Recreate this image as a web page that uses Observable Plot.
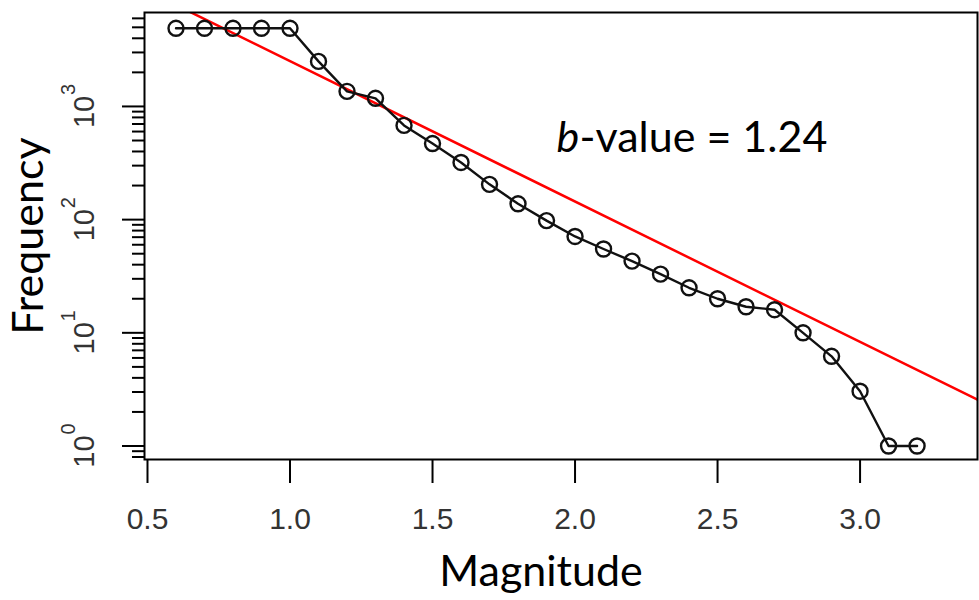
<!DOCTYPE html>
<html>
<head>
<meta charset="utf-8">
<script src="https://cdn.jsdelivr.net/npm/d3@7"></script>
<script src="https://cdn.jsdelivr.net/npm/@observablehq/plot@0.6"></script>
<style>
  html, body { margin: 0; padding: 0; background: #fff; }
  #chart svg { display: block; }
</style>
</head>
<body>
<div id="chart"></div>
<script>
// ---- data ----
const magnitudes = [0.6, 0.7, 0.8, 0.9, 1.0, 1.1, 1.2, 1.3, 1.4, 1.5, 1.6, 1.7, 1.8, 1.9,
                    2.0, 2.1, 2.2, 2.3, 2.4, 2.5, 2.6, 2.7, 2.8, 2.9, 3.0, 3.1, 3.2];
const frequencies = [4900, 4900, 4900, 4900, 4900, 2500, 1360, 1180, 680, 470, 320, 205, 138, 98,
                     71, 55, 43, 33, 25, 20, 17, 16, 10, 6.2, 3.05, 1, 1];
const fitA = [4.64];       // intercept of log10(N) = a - b*M
const fitB = [1.24];       // b-value
const xTicks = [0.5, 1.0, 1.5, 2.0, 2.5, 3.0];
const yMajorTicks = [1, 10, 100, 1000];
const xDomain = [0.4895, 3.412];
const yDomain = [0.76, 6760];
const annotationText = ["b", "-value = 1.24"];
const axisTitles = ["Magnitude", "Frequency"];

// ---- derived tables ----
const data = magnitudes.map((m, i) => ({m, n: frequencies[i]}));
const fit = xDomain.map(m => ({m, n: Math.pow(10, fitA[0] - fitB[0] * m)}));
const yMinorTicks = [];
for (const d of [0.1, 1, 10, 100, 1000]) {
  for (let k = 2; k <= 9; k++) {
    const v = k * d;
    if (v >= yDomain[0] && v <= yDomain[1]) yMinorTicks.push(v);
  }
}

const titleFont = "Lato";

const chart = Plot.plot({
  width: 979,
  height: 600,
  marginLeft: 144,
  marginRight: 2,
  marginTop: 12,
  marginBottom: 141,
  style: {background: "white", fontFamily: "'Liberation Sans', Arial, sans-serif"},
  x: {domain: xDomain},
  y: {type: "log", domain: yDomain},
  marks: [
    Plot.line(fit, {x: "m", y: "n", stroke: "#ff0000", strokeWidth: 2.5, clip: true}),
    Plot.line(data, {x: "m", y: "n", stroke: "#111", strokeWidth: 2.4}),
    Plot.dot(data, {x: "m", y: "n", r: 7.5, stroke: "#111", strokeWidth: 2.4, fill: "none"}),
    Plot.frame({stroke: "#000", strokeWidth: 2}),
    Plot.axisX({ticks: xTicks, tickSize: 24, tickPadding: 24, fontSize: 30,
                tickFormat: d3.format(".1f"), label: null, stroke: "#000", strokeWidth: 2, fill: "#333"}),
    Plot.axisY({ticks: yMajorTicks, tickSize: 22, tickFormat: () => "", label: null, stroke: "#000", strokeWidth: 2}),
    Plot.axisY({ticks: yMinorTicks, tickSize: 12, tickFormat: () => "", label: null, stroke: "#000", strokeWidth: 2}),
    // y tick labels: 10 with superscript exponent
    Plot.text(yMajorTicks, {y: d => d, text: () => "10", frameAnchor: "left", dx: -60, dy: 5.5,
                            rotate: -90, fontSize: 29, fill: "#333", textAnchor: "middle", lineAnchor: "middle"}),
    Plot.text(yMajorTicks, {y: d => d, text: d => String(Math.round(Math.log10(d))), frameAnchor: "left",
                            dx: -76, dy: -17, rotate: -90, fontSize: 20, fill: "#333",
                            textAnchor: "middle", lineAnchor: "middle"}),
    // annotation
    Plot.text([annotationText[0]], {x: 1.935, y: 521, text: d => d, textAnchor: "start", lineAnchor: "middle",
                                     fontSize: 43, fontFamily: titleFont, fontStyle: "italic", fill: "#000"}),
    Plot.text([annotationText[1]], {x: 1.935, y: 521, dx: 23, text: d => d, textAnchor: "start", lineAnchor: "middle",
                                     fontSize: 43, fontFamily: titleFont, fill: "#000"}),
    // axis titles
    Plot.text([axisTitles[0]], {frameAnchor: "bottom", dx: -20, dy: 113, text: d => d, textAnchor: "middle",
                                lineAnchor: "middle", fontSize: 43, fontFamily: titleFont, fill: "#000"}),
    Plot.text([axisTitles[1]], {frameAnchor: "left", dx: -115, text: d => d, rotate: -90, textAnchor: "middle",
                                lineAnchor: "middle", fontSize: 43, fontFamily: titleFont, fill: "#000"})
  ]
});
document.getElementById("chart").appendChild(chart);
</script>
</body>
</html>
